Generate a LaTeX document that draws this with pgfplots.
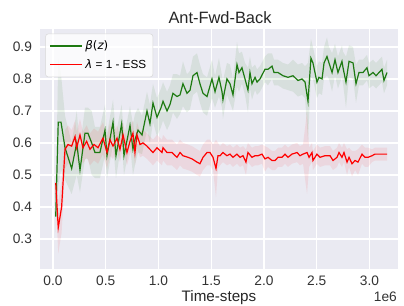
\documentclass[border=0pt]{standalone}
\usepackage{fontspec}
\setmainfont{Liberation Sans}
\newfontfamily\dejavu{DejaVu Sans}
\usepackage{pgfplots}
\pgfplotsset{compat=1.18}
\usepackage{pgfplotstable}
\usepgfplotslibrary{fillbetween}
\definecolor{bg}{HTML}{EAEAF2}
\definecolor{gline}{HTML}{1E7A12}
\definecolor{rline}{HTML}{FF0000}

\pgfplotstableread{
x m s
0.026 0.37 0.05
0.050 0.665 0.20
0.076 0.665 0.15
0.114 0.585 0.10
0.177 0.52 0.08
0.225 0.60 0.10
0.256 0.515 0.07
0.303 0.63 0.08
0.332 0.63 0.08
0.367 0.60 0.10
0.398 0.57 0.08
0.445 0.57 0.08
0.493 0.64 0.08
0.512 0.56 0.07
0.569 0.665 0.07
0.597 0.56 0.07
0.651 0.66 0.06
0.673 0.56 0.06
0.730 0.655 0.06
0.758 0.58 0.08
0.777 0.61 0.08
0.806 0.64 0.07
0.844 0.625 0.06
0.891 0.70 0.06
0.919 0.66 0.06
0.948 0.725 0.06
0.986 0.68 0.06
1.024 0.71 0.06
1.043 0.73 0.06
1.081 0.70 0.06
1.109 0.72 0.06
1.137 0.755 0.06
1.175 0.745 0.07
1.204 0.75 0.06
1.232 0.785 0.07
1.270 0.755 0.06
1.299 0.765 0.06
1.327 0.81 0.06
1.365 0.82 0.06
1.393 0.785 0.06
1.422 0.755 0.06
1.460 0.745 0.06
1.507 0.80 0.06
1.536 0.76 0.05
1.573 0.805 0.06
1.602 0.76 0.05
1.611 0.735 0.06
1.649 0.80 0.05
1.678 0.785 0.06
1.706 0.75 0.05
1.744 0.845 0.07
1.763 0.82 0.06
1.791 0.835 0.05
1.820 0.80 0.05
1.848 0.765 0.07
1.867 0.82 0.05
1.886 0.785 0.05
1.915 0.805 0.04
1.934 0.79 0.04
1.962 0.80 0.04
2.009 0.83 0.04
2.038 0.83 0.05
2.076 0.84 0.04
2.095 0.82 0.04
2.133 0.82 0.04
2.180 0.81 0.04
2.227 0.805 0.04
2.275 0.81 0.05
2.322 0.795 0.05
2.360 0.80 0.05
2.389 0.79 0.05
2.417 0.73 0.12
2.445 0.865 0.06
2.464 0.85 0.05
2.502 0.79 0.05
2.521 0.805 0.05
2.550 0.80 0.05
2.569 0.85 0.05
2.597 0.87 0.06
2.616 0.85 0.05
2.645 0.82 0.06
2.673 0.86 0.05
2.701 0.82 0.05
2.739 0.855 0.05
2.749 0.835 0.05
2.777 0.79 0.08
2.806 0.855 0.05
2.844 0.85 0.05
2.872 0.785 0.06
2.900 0.82 0.04
2.938 0.82 0.04
2.976 0.835 0.04
2.995 0.81 0.04
3.033 0.82 0.04
3.062 0.81 0.04
3.090 0.82 0.04
3.118 0.83 0.04
3.137 0.795 0.04
3.166 0.82 0.04
}\greentab

\pgfplotstableread{
x m s
0.026 0.475 0.05
0.050 0.335 0.08
0.082 0.40 0.08
0.114 0.58 0.06
0.142 0.595 0.06
0.177 0.59 0.05
0.209 0.62 0.05
0.225 0.585 0.05
0.256 0.625 0.05
0.284 0.585 0.05
0.319 0.605 0.05
0.351 0.58 0.05
0.389 0.595 0.05
0.427 0.585 0.05
0.474 0.615 0.05
0.512 0.57 0.05
0.540 0.61 0.05
0.569 0.59 0.04
0.607 0.615 0.04
0.635 0.58 0.04
0.664 0.625 0.04
0.701 0.57 0.04
0.730 0.605 0.04
0.758 0.63 0.04
0.777 0.57 0.04
0.796 0.625 0.04
0.825 0.595 0.04
0.853 0.60 0.04
0.891 0.59 0.04
0.919 0.58 0.04
0.948 0.57 0.04
0.986 0.585 0.04
1.033 0.57 0.04
1.043 0.585 0.04
1.081 0.57 0.04
1.128 0.57 0.04
1.175 0.555 0.04
1.204 0.57 0.04
1.232 0.56 0.04
1.280 0.555 0.04
1.318 0.55 0.04
1.365 0.54 0.04
1.393 0.535 0.04
1.422 0.555 0.04
1.460 0.57 0.04
1.488 0.57 0.04
1.517 0.555 0.04
1.545 0.52 0.09
1.564 0.56 0.04
1.583 0.56 0.03
1.611 0.57 0.03
1.649 0.56 0.03
1.678 0.565 0.03
1.706 0.555 0.03
1.744 0.565 0.03
1.773 0.555 0.03
1.801 0.56 0.03
1.829 0.54 0.04
1.848 0.57 0.03
1.886 0.555 0.03
1.915 0.56 0.03
1.943 0.56 0.03
1.981 0.565 0.03
2.009 0.55 0.04
2.038 0.555 0.03
2.076 0.545 0.03
2.104 0.545 0.03
2.133 0.555 0.03
2.171 0.555 0.03
2.199 0.565 0.03
2.227 0.555 0.03
2.265 0.565 0.03
2.313 0.57 0.03
2.341 0.56 0.03
2.370 0.565 0.03
2.408 0.57 0.13
2.427 0.555 0.03
2.455 0.57 0.03
2.464 0.545 0.03
2.502 0.565 0.03
2.531 0.555 0.03
2.578 0.56 0.03
2.626 0.56 0.03
2.654 0.545 0.03
2.692 0.555 0.03
2.711 0.57 0.03
2.739 0.555 0.03
2.758 0.57 0.03
2.787 0.54 0.04
2.806 0.555 0.03
2.834 0.535 0.04
2.863 0.545 0.03
2.891 0.54 0.04
2.929 0.565 0.03
2.957 0.555 0.03
2.986 0.555 0.03
3.024 0.56 0.02
3.052 0.565 0.02
3.100 0.565 0.02
3.166 0.565 0.02
}\redtab

\begin{document}
\begin{tikzpicture}
\begin{axis}[
  at={(0,0)}, anchor=south west,
  scale only axis, width=268.5pt, height=180pt,
  xmin=-0.123, xmax=3.27, ymin=0.206, ymax=0.956,
  axis background/.style={fill=bg},
  axis line style={draw=none},
  grid=major, major grid style={white, line width=1pt},
  tick style={draw=none},
  xtick={0,0.5,1,1.5,2,2.5,3},
  ytick={0.3,0.4,0.5,0.6,0.7,0.8,0.9},
  /pgf/number format/assume math mode=true,
  /pgf/number format/fixed, /pgf/number format/fixed zerofill,
  /pgf/number format/precision=1,
  scaled x ticks=false, scaled y ticks=false,
  ticklabel style={font=\fontsize{10.3}{12}\selectfont, text=black!80},
  xticklabel style={yshift=-2pt},
  yticklabel style={xshift=-2.5pt},
  legend style={at={(0,1)}, anchor=north west, xshift=4pt, yshift=-3.5pt,
    draw=black!15, fill=white, fill opacity=0.8, text opacity=1,
    rounded corners=2pt, font=\fontsize{8.8}{10}\selectfont,
    row sep=1.8pt, inner xsep=3pt, inner ysep=3pt},
  legend cell align=left,
  legend image code/.code={\draw[#1] (0pt,0pt) -- (19pt,0pt); \path (0pt,0pt) -- (24pt,0pt);},
]
\addplot[draw=none, name path=gu, forget plot] table[x=x, y expr=\thisrow{m}+\thisrow{s}] {\greentab};
\addplot[draw=none, name path=gl, forget plot] table[x=x, y expr=\thisrow{m}-\thisrow{s}] {\greentab};
\addplot[fill=gline, fill opacity=0.09, draw=none, forget plot] fill between[of=gu and gl];
\addplot[draw=none, name path=ru, forget plot] table[x=x, y expr=\thisrow{m}+\thisrow{s}] {\redtab};
\addplot[draw=none, name path=rl, forget plot] table[x=x, y expr=\thisrow{m}-\thisrow{s}] {\redtab};
\addplot[fill=rline, fill opacity=0.08, draw=none, forget plot] fill between[of=ru and rl];
\addplot[gline, line width=0.9pt] table[x=x, y=m] {\greentab};
\addlegendentry{{\dejavu\itshape β}{\dejavu (}{\dejavu\itshape z}{\dejavu )}}
\addplot[rline, line width=0.9pt] table[x=x, y=m] {\redtab};
\addlegendentry{{\dejavu\itshape λ} = 1 - ESS}
\end{axis}
\node[font=\fontsize{12.3}{14}\selectfont, text=black!85] at (135pt,188.5pt) {Ant-Fwd-Back};
\node[font=\fontsize{11.4}{13}\selectfont, text=black!85] at (134.25pt,-21.5pt) {Time-steps};
\node[font=\fontsize{10.3}{12}\selectfont, text=black!80] at (259pt,-20.5pt) {1e6};
\pgfresetboundingbox
\useasboundingbox (-30pt,-27.75pt) rectangle (273pt,201.75pt);
\end{tikzpicture}
\end{document}
